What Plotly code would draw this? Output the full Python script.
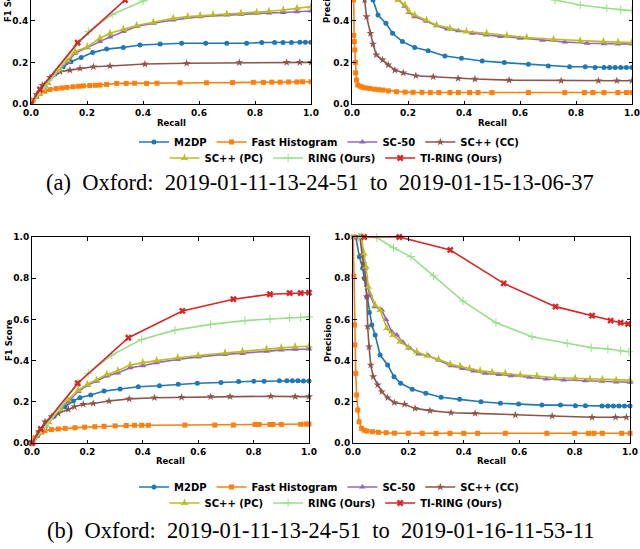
import plotly.graph_objects as go

# ---------------- panel (a): F1 score vs recall ----------------
a_f1_m2dp_r = [0, 0.02, 0.05, 0.086, 0.115, 0.143, 0.179, 0.22, 0.27, 0.33, 0.389, 0.461, 0.538, 0.624, 0.699, 0.77, 0.824, 0.87, 0.9, 0.93, 0.96, 0.98, 1.0]
a_f1_m2dp = [0, 0.035, 0.085, 0.144, 0.179, 0.203, 0.224, 0.247, 0.264, 0.272, 0.284, 0.288, 0.292, 0.292, 0.292, 0.292, 0.296, 0.296, 0.296, 0.296, 0.297, 0.297, 0.297]
a_f1_fh_r = [0, 0.008, 0.02, 0.032, 0.05, 0.068, 0.09, 0.11, 0.128, 0.15, 0.17, 0.187, 0.21, 0.23, 0.246, 0.27, 0.306, 0.34, 0.37, 0.413, 0.45, 0.532, 0.627, 0.72, 0.794, 0.83, 0.86, 0.89, 0.92, 0.95, 0.97, 1.0]
a_f1_fh = [0, 0.019, 0.038, 0.051, 0.062, 0.07, 0.074, 0.077, 0.08, 0.083, 0.085, 0.087, 0.089, 0.09, 0.091, 0.094, 0.099, 0.099, 0.1, 0.099, 0.1, 0.102, 0.102, 0.103, 0.104, 0.104, 0.105, 0.105, 0.106, 0.106, 0.107, 0.107]
a_f1_sc50_r = [0, 0.03, 0.06, 0.1, 0.13, 0.157, 0.201, 0.246, 0.282, 0.33, 0.377, 0.437, 0.508, 0.604, 0.699, 0.75, 0.806, 0.85, 0.901, 0.95, 1.0]
a_f1_sc50 = [0, 0.05, 0.1, 0.16, 0.2, 0.244, 0.27, 0.3, 0.322, 0.348, 0.373, 0.388, 0.404, 0.42, 0.428, 0.432, 0.436, 0.438, 0.44, 0.443, 0.447]
a_f1_cc_r = [0, 0.02, 0.04, 0.068, 0.104, 0.139, 0.175, 0.223, 0.282, 0.407, 0.556, 0.744, 0.913, 0.96, 1.0]
a_f1_cc = [0, 0.045, 0.09, 0.128, 0.155, 0.163, 0.171, 0.179, 0.183, 0.192, 0.196, 0.199, 0.2, 0.2, 0.2]
a_f1_pc_r = [0, 0.03, 0.06, 0.1, 0.13, 0.157, 0.201, 0.246, 0.282, 0.33, 0.377, 0.437, 0.508, 0.56, 0.604, 0.65, 0.699, 0.75, 0.806, 0.85, 0.901, 0.95, 1.0]
a_f1_pc = [0, 0.05, 0.1, 0.165, 0.21, 0.251, 0.275, 0.316, 0.34, 0.359, 0.377, 0.393, 0.412, 0.42, 0.425, 0.43, 0.433, 0.437, 0.441, 0.446, 0.452, 0.46, 0.468]
a_f1_ring_r = [0, 0.05, 0.1, 0.16, 0.205, 0.29, 0.4, 0.52, 0.645, 0.77, 0.86, 0.93, 0.97, 1.0]
a_f1_ring = [0, 0.08, 0.17, 0.28, 0.348, 0.43, 0.495, 0.545, 0.57, 0.588, 0.597, 0.603, 0.606, 0.608]
a_f1_ti_r = [0, 0.032, 0.167, 0.336, 0.54, 0.73, 0.86, 0.93, 0.97, 1.0]
a_f1_ti = [0, 0.07, 0.295, 0.5, 0.635, 0.695, 0.718, 0.724, 0.726, 0.728]

# ---------------- panel (a): precision vs recall ----------------
a_pr_m2dp_r = [0.01, 0.02, 0.035, 0.05, 0.062, 0.075, 0.093, 0.121, 0.145, 0.18, 0.224, 0.272, 0.332, 0.391, 0.465, 0.544, 0.63, 0.701, 0.777, 0.833, 0.868, 0.9, 0.92, 0.94, 0.96, 0.98, 1.0]
a_pr_m2dp = [1.0, 0.92, 0.84, 0.72, 0.6, 0.5, 0.428, 0.388, 0.34, 0.3, 0.272, 0.256, 0.231, 0.22, 0.207, 0.199, 0.191, 0.183, 0.179, 0.179, 0.176, 0.175, 0.175, 0.175, 0.175, 0.175, 0.175]
a_pr_fh_r = [0.001, 0.003, 0.005, 0.006, 0.008, 0.01, 0.012, 0.013, 0.016, 0.021, 0.03, 0.039, 0.05, 0.063, 0.08, 0.095, 0.111, 0.13, 0.159, 0.19, 0.218, 0.25, 0.28, 0.31, 0.35, 0.38, 0.42, 0.45, 0.5, 0.63, 0.76, 0.83, 0.86, 0.9, 0.95, 0.98, 1.0]
a_pr_fh = [1.0, 0.8, 0.5, 0.33, 0.3, 0.26, 0.2, 0.15, 0.115, 0.091, 0.085, 0.08, 0.077, 0.075, 0.071, 0.069, 0.067, 0.063, 0.059, 0.057, 0.056, 0.056, 0.055, 0.055, 0.055, 0.055, 0.055, 0.055, 0.055, 0.055, 0.055, 0.055, 0.055, 0.055, 0.055, 0.055, 0.055]
a_pr_sc50_r = [0.02, 0.035, 0.043, 0.05, 0.061, 0.08, 0.104, 0.119, 0.14, 0.165, 0.189, 0.204, 0.224, 0.266, 0.302, 0.34, 0.38, 0.43, 0.48, 0.53, 0.6, 0.68, 0.76, 0.84, 0.9, 0.95, 1.0]
a_pr_sc50 = [1.0, 0.92, 0.85, 0.77, 0.72, 0.66, 0.645, 0.6, 0.54, 0.5, 0.47, 0.44, 0.42, 0.398, 0.376, 0.36, 0.352, 0.34, 0.332, 0.325, 0.316, 0.306, 0.298, 0.292, 0.29, 0.289, 0.288]
a_pr_cc_r = [0.01, 0.02, 0.03, 0.04, 0.045, 0.052, 0.066, 0.075, 0.087, 0.109, 0.129, 0.153, 0.183, 0.228, 0.29, 0.379, 0.439, 0.561, 0.747, 0.88, 0.946, 1.0]
a_pr_cc = [1.0, 0.95, 0.85, 0.65, 0.5, 0.42, 0.34, 0.288, 0.236, 0.212, 0.188, 0.163, 0.15, 0.136, 0.131, 0.123, 0.12, 0.115, 0.112, 0.112, 0.112, 0.112]
a_pr_pc_r = [0.02, 0.04, 0.05, 0.06, 0.08, 0.1, 0.12, 0.145, 0.165, 0.189, 0.204, 0.224, 0.266, 0.302, 0.35, 0.409, 0.481, 0.553, 0.624, 0.72, 0.815, 0.898, 0.95, 1.0]
a_pr_pc = [1.0, 0.95, 0.86, 0.77, 0.68, 0.65, 0.58, 0.53, 0.5, 0.476, 0.444, 0.428, 0.404, 0.38, 0.364, 0.348, 0.34, 0.329, 0.319, 0.311, 0.304, 0.3, 0.298, 0.295]
a_pr_ring_r = [0.02, 0.086, 0.146, 0.209, 0.291, 0.397, 0.516, 0.646, 0.725, 0.815, 0.91, 0.96, 1.0]
a_pr_ring = [1.0, 0.997, 0.95, 0.905, 0.81, 0.69, 0.585, 0.525, 0.5, 0.476, 0.46, 0.453, 0.449]
a_pr_ti_r = [0.04, 0.167, 0.351, 0.544, 0.731, 0.863, 0.93, 0.966, 1.0]
a_pr_ti = [1.0, 1.0, 0.94, 0.78, 0.67, 0.625, 0.6, 0.59, 0.585]

# ---------------- panel (b): F1 score vs recall ----------------
b_f1_m2dp_r = [0, 0.02, 0.05, 0.08, 0.119, 0.149, 0.173, 0.212, 0.26, 0.318, 0.384, 0.46, 0.528, 0.597, 0.682, 0.746, 0.801, 0.838, 0.893, 0.92, 0.94, 0.96, 0.98, 1.0]
b_f1_m2dp = [0, 0.035, 0.085, 0.13, 0.176, 0.204, 0.22, 0.233, 0.252, 0.262, 0.273, 0.278, 0.285, 0.29, 0.294, 0.298, 0.3, 0.3, 0.302, 0.302, 0.302, 0.302, 0.301, 0.301]
b_f1_fh_r = [0, 0.01, 0.023, 0.035, 0.047, 0.07, 0.095, 0.12, 0.155, 0.19, 0.227, 0.26, 0.3, 0.34, 0.37, 0.396, 0.42, 0.552, 0.66, 0.727, 0.805, 0.82, 0.859, 0.87, 0.9, 0.97, 0.99, 1.0]
b_f1_fh = [0, 0.025, 0.047, 0.055, 0.06, 0.065, 0.068, 0.071, 0.074, 0.077, 0.079, 0.081, 0.083, 0.085, 0.086, 0.086, 0.086, 0.087, 0.087, 0.087, 0.09, 0.09, 0.09, 0.09, 0.09, 0.091, 0.092, 0.092]
b_f1_sc50_r = [0, 0.03, 0.06, 0.1, 0.13, 0.167, 0.2, 0.233, 0.27, 0.31, 0.354, 0.4, 0.45, 0.526, 0.6, 0.697, 0.76, 0.847, 0.9, 0.95, 1.0]
b_f1_sc50 = [0, 0.05, 0.1, 0.16, 0.2, 0.25, 0.28, 0.3, 0.325, 0.34, 0.365, 0.375, 0.39, 0.405, 0.418, 0.43, 0.435, 0.445, 0.452, 0.455, 0.456]
b_f1_cc_r = [0, 0.025, 0.047, 0.071, 0.095, 0.131, 0.153, 0.185, 0.221, 0.278, 0.351, 0.442, 0.54, 0.645, 0.715, 0.862, 0.95, 1.0]
b_f1_cc = [0, 0.055, 0.103, 0.128, 0.144, 0.163, 0.176, 0.188, 0.192, 0.204, 0.214, 0.22, 0.222, 0.225, 0.225, 0.227, 0.225, 0.225]
b_f1_pc_r = [0, 0.03, 0.06, 0.1, 0.13, 0.167, 0.2, 0.233, 0.27, 0.31, 0.354, 0.4, 0.45, 0.526, 0.6, 0.697, 0.76, 0.847, 0.9, 0.95, 1.0]
b_f1_pc = [0, 0.05, 0.1, 0.165, 0.21, 0.257, 0.285, 0.306, 0.333, 0.351, 0.379, 0.39, 0.4, 0.414, 0.425, 0.438, 0.445, 0.456, 0.462, 0.467, 0.47]
b_f1_ring_r = [0, 0.05, 0.1, 0.165, 0.203, 0.288, 0.396, 0.516, 0.645, 0.769, 0.859, 0.93, 0.97, 1.0]
b_f1_ring = [0, 0.08, 0.17, 0.29, 0.338, 0.427, 0.503, 0.548, 0.576, 0.594, 0.602, 0.608, 0.61, 0.612]
b_f1_ti_r = [0, 0.032, 0.165, 0.348, 0.543, 0.727, 0.859, 0.93, 0.97, 1.0]
b_f1_ti = [0, 0.068, 0.29, 0.511, 0.641, 0.698, 0.722, 0.728, 0.728, 0.73]

# ---------------- panel (b): precision vs recall ----------------
b_pr_m2dp_r = [0.01, 0.023, 0.035, 0.041, 0.05, 0.059, 0.068, 0.08, 0.098, 0.125, 0.148, 0.172, 0.214, 0.263, 0.318, 0.385, 0.462, 0.532, 0.598, 0.682, 0.749, 0.803, 0.839, 0.899, 0.92, 0.94, 0.96, 0.98, 1.0]
b_pr_m2dp = [1.0, 0.904, 0.848, 0.8, 0.71, 0.634, 0.573, 0.524, 0.427, 0.379, 0.322, 0.29, 0.261, 0.241, 0.222, 0.212, 0.2, 0.193, 0.189, 0.184, 0.184, 0.181, 0.181, 0.18, 0.18, 0.18, 0.18, 0.18, 0.18]
b_pr_fh_r = [0.001, 0.003, 0.005, 0.007, 0.01, 0.013, 0.017, 0.022, 0.031, 0.04, 0.05, 0.07, 0.092, 0.12, 0.15, 0.2, 0.25, 0.3, 0.35, 0.4, 0.45, 0.55, 0.7, 0.8, 0.85, 0.87, 0.9, 0.97, 1.0]
b_pr_fh = [1.0, 0.81, 0.573, 0.476, 0.338, 0.233, 0.16, 0.103, 0.071, 0.062, 0.058, 0.055, 0.052, 0.05, 0.048, 0.047, 0.047, 0.047, 0.047, 0.047, 0.047, 0.047, 0.047, 0.047, 0.047, 0.047, 0.047, 0.047, 0.047]
b_pr_sc50_r = [0.03, 0.035, 0.043, 0.05, 0.061, 0.08, 0.104, 0.119, 0.14, 0.158, 0.18, 0.206, 0.236, 0.272, 0.309, 0.354, 0.395, 0.435, 0.477, 0.526, 0.57, 0.637, 0.698, 0.761, 0.839, 0.899, 0.95, 1.0]
b_pr_sc50 = [1.0, 0.913, 0.848, 0.767, 0.718, 0.662, 0.646, 0.6, 0.54, 0.524, 0.489, 0.46, 0.432, 0.424, 0.403, 0.375, 0.362, 0.35, 0.338, 0.333, 0.327, 0.319, 0.311, 0.306, 0.302, 0.3, 0.296, 0.295]
b_pr_cc_r = [0.025, 0.034, 0.037, 0.043, 0.05, 0.053, 0.058, 0.064, 0.073, 0.089, 0.104, 0.125, 0.149, 0.186, 0.224, 0.278, 0.354, 0.441, 0.586, 0.719, 0.863, 0.948, 0.987]
b_pr_cc = [1.0, 0.913, 0.872, 0.8, 0.71, 0.565, 0.467, 0.379, 0.322, 0.282, 0.249, 0.22, 0.196, 0.188, 0.168, 0.157, 0.147, 0.144, 0.136, 0.131, 0.125, 0.125, 0.125]
b_pr_pc_r = [0.03, 0.04, 0.047, 0.055, 0.08, 0.098, 0.122, 0.144, 0.17, 0.2, 0.23, 0.267, 0.309, 0.351, 0.387, 0.421, 0.459, 0.502, 0.55, 0.604, 0.664, 0.73, 0.802, 0.856, 0.9, 0.95, 1.0]
b_pr_pc = [1.0, 0.92, 0.856, 0.759, 0.67, 0.646, 0.557, 0.524, 0.492, 0.463, 0.443, 0.424, 0.406, 0.383, 0.374, 0.362, 0.35, 0.343, 0.338, 0.33, 0.325, 0.317, 0.314, 0.311, 0.308, 0.306, 0.305]
b_pr_ring_r = [0.02, 0.086, 0.146, 0.209, 0.291, 0.397, 0.516, 0.646, 0.773, 0.86, 0.92, 0.966, 0.996]
b_pr_ring = [1.0, 0.997, 0.948, 0.905, 0.811, 0.689, 0.584, 0.516, 0.484, 0.463, 0.456, 0.447, 0.443]
b_pr_ti_r = [0.04, 0.167, 0.351, 0.544, 0.731, 0.863, 0.93, 0.966, 0.993]
b_pr_ti = [1.0, 1.0, 0.937, 0.775, 0.662, 0.618, 0.594, 0.584, 0.578]

methods = ["M2DP", "Fast Histogram", "SC-50", "SC++ (CC)", "SC++ (PC)", "RING (Ours)", "TI-RING (Ours)"]
keys = ["m2dp", "fh", "sc50", "cc", "pc", "ring", "ti"]
colors = ["#1f77b4", "#ff7f0e", "#9467bd", "#8c564b", "#bcbd22", "#98df8a", "#d62728"]
symbols = ["circle", "square", "triangle-up", "star", "star-triangle-up", "cross-thin", "x"]
msizes = [5, 5, 6, 6, 6, 6, 6]

captions = ["(a)  Oxford:  2019-01-11-13-24-51  to  2019-01-15-13-06-37",
            "(b)  Oxford:  2019-01-11-13-24-51  to  2019-01-16-11-53-11"]

W, H = 640, 549
def px(x): return x / W
def py(y): return 1 - y / H

fig = go.Figure()

# (panel, metric, xaxis, yaxis)
panels = [
    ("a", "f1", "x", "y"),
    ("a", "pr", "x2", "y2"),
    ("b", "f1", "x3", "y3"),
    ("b", "pr", "x4", "y4"),
]
data = globals()
for panel, metric, xa, ya in panels:
    for i, (name, k) in enumerate(zip(methods, keys)):
        r = data[f"{panel}_{metric}_{k}_r"]
        v = data[f"{panel}_{metric}_{k}"]
        show = metric == "f1"
        if panel == "a":
            lg = "legend" if i < 4 else "legend2"
        else:
            lg = "legend3" if i < 4 else "legend4"
        fig.add_trace(go.Scatter(
            x=r, y=v, name=name, mode="lines+markers",
            xaxis=xa, yaxis=ya, showlegend=show, legend=lg,
            line=dict(color=colors[i], width=1.6),
            marker=dict(symbol=symbols[i], size=msizes[i], color=colors[i],
                        line=dict(color=colors[i], width=1 if symbols[i] == "cross-thin" else 0)),
            cliponaxis=(panel == "a"),
        ))

tickfont = dict(family="DejaVu Sans", size=9, color="black", weight="bold")
ax_common = dict(showgrid=False, zeroline=False, showline=True, linecolor="black", linewidth=1,
                 ticks="inside", ticklen=3.5, tickcolor="black", tickfont=tickfont, automargin=False,
                 tickvals=[0, 0.2, 0.4, 0.6, 0.8, 1.0], ticktext=["0.0", "0.2", "0.4", "0.6", "0.8", "1.0"])

dom_a_y = [py(104), 1.0]
dom_b_y = [py(443), py(237)]
fig.update_layout(
    width=W, height=H, margin=dict(l=0, r=0, t=0, b=0, autoexpand=False),
    paper_bgcolor="white", plot_bgcolor="white",
    xaxis=dict(ax_common, domain=[px(31), px(311)], range=[0, 1], anchor="y", mirror=False),
    yaxis=dict(ax_common, domain=dom_a_y, range=[0, 0.5], anchor="x", mirror="ticks"),
    xaxis2=dict(ax_common, domain=[px(352), px(632)], range=[0, 1], anchor="y2", mirror=False),
    yaxis2=dict(ax_common, domain=dom_a_y, range=[0, 0.5], anchor="x2", mirror="ticks"),
    xaxis3=dict(ax_common, domain=[px(32), px(309)], range=[0, 1], anchor="y3", mirror="ticks"),
    yaxis3=dict(ax_common, domain=dom_b_y, range=[0, 1], anchor="x3", mirror="ticks"),
    xaxis4=dict(ax_common, domain=[px(353), px(630)], range=[0, 1], anchor="y4", mirror="ticks"),
    yaxis4=dict(ax_common, domain=dom_b_y, range=[0, 1], anchor="x4", mirror="ticks"),
)

legfont = dict(family="DejaVu Sans", size=10, color="black", weight="bold")
for lg, xc, yc in [("legend", 329, 142), ("legend2", 336, 158), ("legend3", 329, 487), ("legend4", 336, 503)]:
    fig.update_layout({lg: dict(orientation="h", x=px(xc), xanchor="center", y=py(yc), yanchor="middle",
                                font=legfont, bgcolor="rgba(0,0,0,0)", itemwidth=30)})

titlefont = dict(family="DejaVu Sans", size=8.5, color="black", weight="bold")
annos = [
    ("Recall", 171, 123, 0), ("Recall", 492, 123, 0),
    ("Recall", 170, 461, 0), ("Recall", 491, 461, 0),
    ("F1 Score", 8, 1, -90), ("Precision", 327, 1, -90),
    ("F1 Score", 9, 340, -90), ("Precision", 328, 340, -90),
]
for text, x, y, ang in annos:
    fig.add_annotation(text=text, x=px(x), y=py(y), xref="paper", yref="paper",
                       showarrow=False, textangle=ang, font=titlefont,
                       xanchor="center", yanchor="middle")

capfont = dict(family="Liberation Serif", size=22.5, color="black")
for text, y in zip(captions, [182, 530]):
    fig.add_annotation(text=text.replace("  ", "\u00a0 "), x=px(320), y=py(y), xref="paper", yref="paper",
                       showarrow=False, font=capfont, xanchor="center", yanchor="middle")

# the page body has an 8px default margin; drop it so the figure sits at the window corner
fig.write_html("out.html", config={"displayModeBar": False},
               post_script="document.body.style.margin='0';document.body.style.overflow='hidden';")
